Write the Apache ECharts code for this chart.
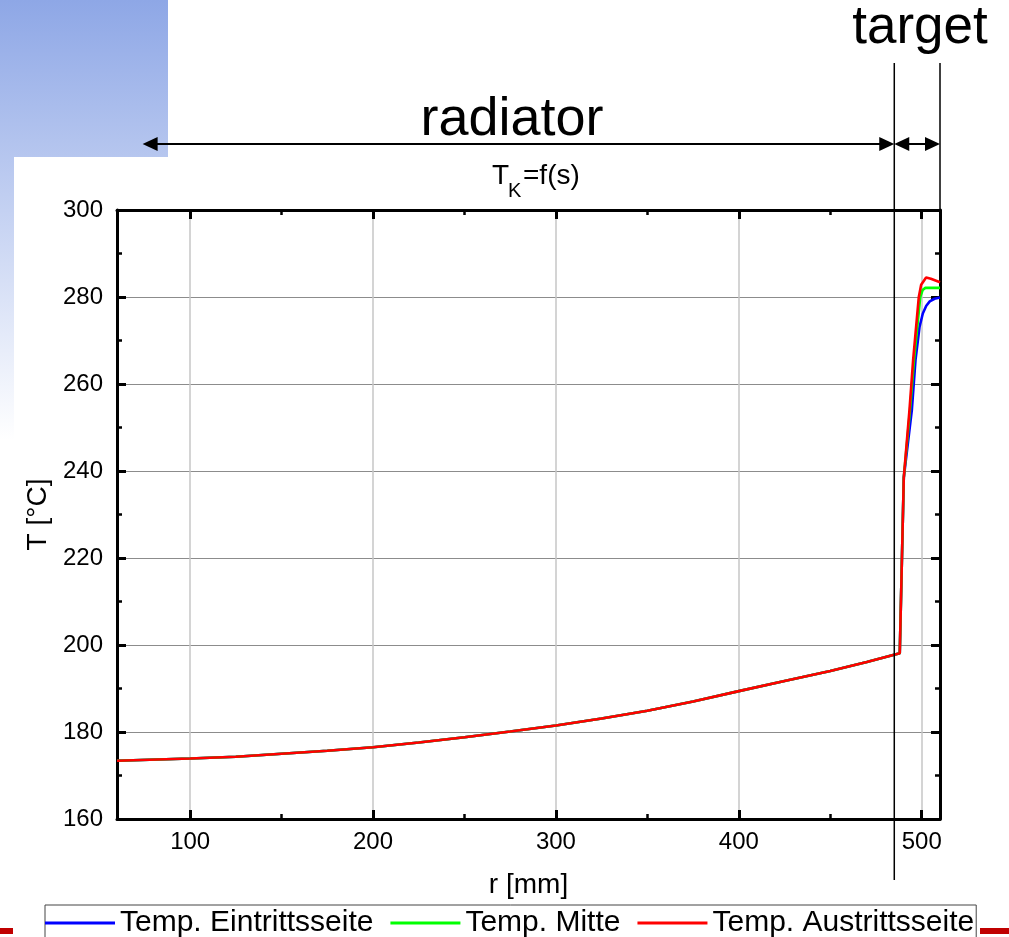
<!DOCTYPE html>
<html><head><meta charset="utf-8">
<script src="https://cdn.jsdelivr.net/npm/echarts@6/dist/echarts.min.js"></script>
<style>html,body{margin:0;padding:0;background:#fff;}#c{width:1009px;height:937px;}</style>
</head><body><div id="c"></div>
<script>
// ---- data ----
const radiusCommon = [60, 100, 125, 150, 175, 200, 225, 250, 275, 300, 325, 350, 375, 400, 425, 450, 470, 488, 490.2];
const tempCommon   = [173.4, 173.9, 174.3, 175.0, 175.7, 176.5, 177.6, 178.8, 180.1, 181.5, 183.1, 184.9, 187.0, 189.4, 191.7, 194.0, 196.1, 198.1, 238.5];
const radiusBlue  = [494.6, 496.6, 498.8, 500.6, 502.5, 504.4, 507, 510];
const tempBlue    = [254, 265.5, 273.1, 276.2, 278, 279, 279.6, 279.9];
const radiusGreen = [493.6, 495.8, 499.2, 500.5, 502, 510];
const tempGreen   = [254, 265.5, 280, 281.6, 282.1, 282.1];
const radiusRed   = [493.3, 495.3, 498.4, 499.7, 502.4, 505, 510];
const tempRed     = [254, 265.5, 280, 282.8, 284.5, 284.2, 283.4];
const seriesNames = ['Temp. Eintrittsseite', 'Temp. Mitte', 'Temp. Austrittsseite'];
const seriesColors = ['#0000ff', '#00ff00', '#ff0000'];
const xMajorTicks = [100, 200, 300, 400, 500];
const xMinorTicks = [150, 250, 350, 450];
const xMin = 60, xMax = 510, yMin = 160, yMax = 300, yStep = 20;
const rBoundary = 485;   // radiator / target boundary
const rArrowStart = 74;  // left end of "radiator" arrow

const FONT = '"Liberation Sans", Arial, sans-serif';
function pairs(rs, ts) { return rs.map((r, i) => [r, ts[i]]); }
const common = pairs(radiusCommon, tempCommon);
const dataSets = [
  common.concat(pairs(radiusBlue, tempBlue)),
  common.concat(pairs(radiusGreen, tempGreen)),
  common.concat(pairs(radiusRed, tempRed))
];

const chart = echarts.init(document.getElementById('c'), null, {renderer: 'canvas'});
const axisLine = {show: true, onZero: false, lineStyle: {color: '#000', width: 3}};
const majorTick = {show: true, inside: true, length: 9, lineStyle: {color: '#000', width: 3}};

function xAxisDef(pos, minor) {
  return {
    type: 'value', min: xMin, max: xMax, position: pos,
    axisLine: minor ? {show: false} : axisLine,
    axisTick: minor
      ? {show: true, inside: true, length: 5, customValues: xMinorTicks, lineStyle: {color: '#000', width: 2.5}}
      : Object.assign({}, majorTick, {customValues: xMajorTicks}),
    axisLabel: (pos === 'bottom' && !minor)
      ? {show: true, customValues: xMajorTicks, fontSize: 24, color: '#000', fontFamily: FONT, margin: 11}
      : {show: false},
    splitLine: (pos === 'bottom' && !minor)
      ? {show: true, lineStyle: {color: '#c6c6c6', width: 1.5}} : {show: false},
    name: (pos === 'bottom' && !minor) ? 'r [mm]' : '',
    nameLocation: 'middle', nameGap: 52,
    nameTextStyle: {fontSize: 28, color: '#000', fontFamily: FONT}
  };
}
function yAxisDef(pos) {
  return {
    type: 'value', min: yMin, max: yMax, interval: yStep, position: pos,
    axisLine: axisLine,
    axisTick: majorTick,
    minorTick: {show: true, splitNumber: 2, length: 5, lineStyle: {color: '#000', width: 2.5}},
    axisLabel: pos === 'left'
      ? {show: true, fontSize: 24, color: '#000', fontFamily: FONT, margin: 14}
      : {show: false},
    splitLine: pos === 'left' ? {show: true, lineStyle: {color: '#8c8c8c', width: 1.2}} : {show: false},
    name: pos === 'left' ? 'T [°C]' : '',
    nameLocation: 'middle', nameGap: 53, nameRotate: 90,
    nameTextStyle: {fontSize: 28, color: '#000', fontFamily: FONT}
  };
}

chart.setOption({
  backgroundColor: '#fff',
  animation: false,
  grid: {left: 117, right: 69, top: 210, bottom: 118, containLabel: false},
  xAxis: [xAxisDef('bottom', false), xAxisDef('top', false), xAxisDef('bottom', true), xAxisDef('top', true)],
  yAxis: [yAxisDef('left'), yAxisDef('right')],
  legend: {
    data: seriesNames, left: 45, top: 905, orient: 'horizontal',
    icon: 'rect', itemWidth: 70, itemHeight: 3, itemGap: 17,
    padding: [3, 2, 14, 0], borderColor: '#444', borderWidth: 1,
    textStyle: {fontSize: 30, color: '#000', fontFamily: FONT}
  },
  series: seriesNames.map((n, i) => ({
    name: n, type: 'line', data: dataSets[i], symbol: 'none', smooth: false,
    xAxisIndex: 0, yAxisIndex: 0, z: 3 + i,
    lineStyle: {color: seriesColors[i], width: 2.6}, itemStyle: {color: seriesColors[i]}
  }))
});

const px = v => chart.convertToPixel({xAxisIndex: 0}, v);
const py = v => chart.convertToPixel({yAxisIndex: 0}, v);
const xB = px(rBoundary), xE = px(xMax), xS = px(rArrowStart), yTop = py(yMax);
const yArrow = 144;
function head(tipX, dir) { // dir -1 = points left, 1 = points right
  return {type: 'polygon', z: 100, shape: {points: [[tipX, yArrow], [tipX - dir * 15, yArrow - 7], [tipX - dir * 15, yArrow + 7]]}, style: {fill: '#000'}};
}
chart.setOption({
  graphic: [
    {type: 'rect', z: -10, shape: {x: 0, y: 0, width: 168, height: 440},
      style: {fill: new echarts.graphic.LinearGradient(0, 0, 0, 1, [{offset: 0, color: '#8ea7e6'}, {offset: 1, color: '#ffffff'}])}},
    {type: 'rect', z: -9, shape: {x: 14, y: 157, width: 160, height: 300}, style: {fill: '#fff'}},
    {type: 'rect', z: 100, shape: {x: 0, y: 928, width: 13, height: 6}, style: {fill: '#c00000'}},
    {type: 'rect', z: 100, shape: {x: 980, y: 928, width: 29, height: 6}, style: {fill: '#c00000'}},
    {type: 'line', z: 100, shape: {x1: xB, y1: 63, x2: xB, y2: 880}, style: {stroke: '#000', lineWidth: 1.5}},
    {type: 'line', z: 100, shape: {x1: xE, y1: 63, x2: xE, y2: yTop}, style: {stroke: '#000', lineWidth: 1.5}},
    {type: 'line', z: 100, shape: {x1: xS + 5, y1: yArrow, x2: xB - 5, y2: yArrow}, style: {stroke: '#000', lineWidth: 2}},
    {type: 'line', z: 100, shape: {x1: xB + 5, y1: yArrow, x2: xE - 5, y2: yArrow}, style: {stroke: '#000', lineWidth: 2}},
    head(xS, -1), head(xB, 1), head(xB, -1), head(xE, 1),
    {type: 'text', z: 100, style: {text: 'radiator', x: 512, y: 120, align: 'center', verticalAlign: 'middle', fontSize: 54, fontFamily: FONT, fill: '#000'}},
    {type: 'text', z: 100, style: {text: 'target', x: 920, y: 28, align: 'center', verticalAlign: 'middle', fontSize: 53, fontFamily: FONT, fill: '#000'}},
    {type: 'text', z: 100, style: {text: 'T', x: 492, y: 176, align: 'left', verticalAlign: 'middle', fontSize: 28, fontFamily: FONT, fill: '#000'}},
    {type: 'text', z: 100, style: {text: 'K', x: 508, y: 191, align: 'left', verticalAlign: 'middle', fontSize: 20, fontFamily: FONT, fill: '#000'}},
    {type: 'text', z: 100, style: {text: '=f(s)', x: 523, y: 176, align: 'left', verticalAlign: 'middle', fontSize: 28, fontFamily: FONT, fill: '#000'}}
  ]
});
</script>
</body></html>
